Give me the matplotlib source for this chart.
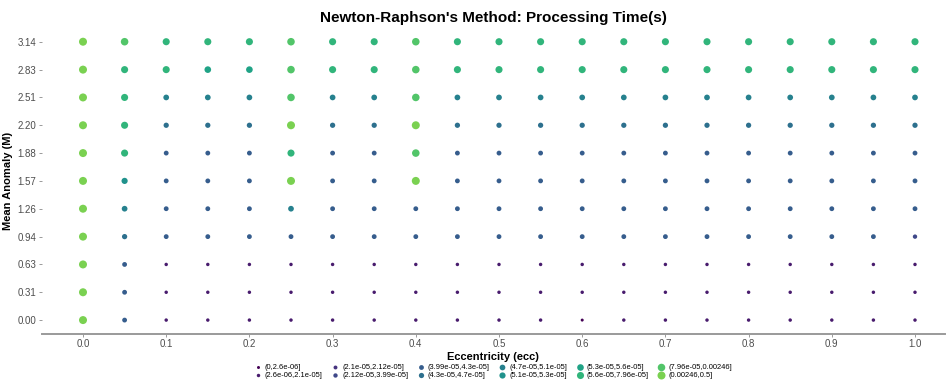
import numpy as np
import matplotlib
matplotlib.use("Agg")
import matplotlib.pyplot as plt
from matplotlib.lines import Line2D

plt.rcParams['font.family'] = ['Liberation Sans', 'DejaVu Sans']

ecc = [round(0.05 * i, 2) for i in range(21)]
mean_anomaly = [0.0, 0.314, 0.628, 0.942, 1.257, 1.571, 1.885, 2.199, 2.513, 2.827, 3.142]
y_tick_labels = ["0.00", "0.31", "0.63", "0.94", "1.26", "1.57", "1.88", "2.20", "2.51", "2.83", "3.14"]
x_tick_labels = ["0.0", "0.1", "0.2", "0.3", "0.4", "0.5", "0.6", "0.7", "0.8", "0.9", "1.0"]

bin_labels = ["(0,2.6e-06]", "(2.6e-06,2.1e-05]", "(2.1e-05,2.12e-05]", "(2.12e-05,3.99e-05]",
              "(3.99e-05,4.3e-05]", "(4.3e-05,4.7e-05]", "(4.7e-05,5.1e-05]", "(5.1e-05,5.3e-05]",
              "(5.3e-05,5.6e-05]", "(5.6e-05,7.96e-05]", "(7.96e-05,0.00246]", "(0.00246,0.5]"]

# time bin (1..12) of each point, one list per mean anomaly row (bottom to top), columns = ecc
bins_m000 = [12, 5, 2, 2, 2, 2, 2, 2, 2, 2, 2, 2, 1, 2, 2, 2, 2, 2, 2, 2, 2]
bins_m031 = [12, 5, 2, 2, 2, 2, 2, 2, 2, 2, 2, 2, 2, 2, 2, 2, 2, 2, 2, 2, 2]
bins_m063 = [12, 5, 2, 2, 2, 2, 2, 2, 2, 2, 2, 2, 2, 2, 2, 2, 2, 2, 2, 2, 2]
bins_m094 = [12, 6, 5, 5, 5, 5, 5, 5, 5, 5, 5, 5, 5, 5, 5, 5, 5, 5, 5, 5, 4]
bins_m126 = [12, 7, 5, 5, 5, 7, 5, 5, 5, 5, 5, 5, 5, 5, 5, 5, 5, 5, 5, 5, 5]
bins_m157 = [12, 8, 5, 5, 5, 12, 5, 5, 12, 5, 5, 5, 5, 5, 5, 5, 5, 5, 5, 5, 5]
bins_m188 = [12, 10, 5, 5, 5, 10, 5, 5, 11, 5, 5, 5, 5, 5, 5, 5, 5, 5, 5, 5, 5]
bins_m220 = [12, 10, 6, 6, 6, 12, 6, 6, 12, 6, 6, 6, 6, 6, 6, 6, 6, 6, 6, 6, 6]
bins_m251 = [12, 10, 7, 7, 7, 11, 7, 7, 11, 7, 7, 7, 7, 7, 7, 7, 7, 7, 7, 7, 7]
bins_m283 = [12, 10, 10, 9, 9, 11, 10, 10, 11, 10, 10, 10, 10, 10, 10, 10, 10, 10, 10, 10, 10]
bins_m314 = [12, 11, 10, 10, 10, 11, 10, 10, 11, 10, 10, 10, 10, 10, 10, 10, 10, 10, 10, 10, 10]

bin_rows = [bins_m000, bins_m031, bins_m063, bins_m094, bins_m126, bins_m157,
            bins_m188, bins_m220, bins_m251, bins_m283, bins_m314]

n_bins = len(bin_labels)
colors = plt.cm.viridis(np.linspace(0, 0.8, n_bins))
diam_px = np.linspace(3.0, 8.0, n_bins)
sizes = (diam_px * 0.72) ** 2

W, H = 948, 383
fig = plt.figure(figsize=(W / 100, H / 100), dpi=100)

# panel placement (pixels)
px_left, px_right = 41.6, 945.0
px_top, px_bottom = 27.8, 334.0
ax = fig.add_axes([px_left / W, 1 - px_bottom / H, (px_right - px_left) / W, (px_bottom - px_top) / H])

xs, ys, cs, ss = [], [], [], []
for mi, row in enumerate(bin_rows):
    for ei, b in enumerate(row):
        xs.append(ecc[ei]); ys.append(mean_anomaly[mi])
        cs.append(colors[b - 1]); ss.append(sizes[b - 1])
ax.scatter(xs, ys, c=cs, s=ss, linewidths=0, zorder=3)

unit = 832.0
ax.set_xlim(-(83 - px_left) / unit, 1 + (px_right - 915) / unit)
yr = 3.142
ax.set_ylim(-0.05 * yr, 1.05 * yr)

ax.set_xticks(np.arange(0, 1.01, 0.1))
ax.set_xticklabels(x_tick_labels)
ax.set_yticks(mean_anomaly)
ax.set_yticklabels(y_tick_labels)

for s in ['top', 'right', 'left']:
    ax.spines[s].set_visible(False)
ax.spines['bottom'].set_color('#9a9a9a')
ax.spines['bottom'].set_linewidth(1.4)
ax.tick_params(axis='both', colors='#8a8a8a', labelcolor='#4d4d4d', labelsize=7,
               length=2.2, width=0.6, pad=1.5)

ax.set_xlabel("Eccentricity (ecc)", fontsize=8, fontweight='bold', labelpad=2)
ax.set_ylabel("Mean Anomaly (M)", fontsize=8, fontweight='bold', labelpad=3)

fig.text(493 / W, 1 - 18 / H, "Newton-Raphson's Method: Processing Time(s)",
         ha='center', va='center', fontsize=11, fontweight='bold')

handles = [Line2D([0], [0], marker='o', linestyle='None', markersize=diam_px[i] * 0.72,
                  markerfacecolor=colors[i], markeredgewidth=0) for i in range(n_bins)]
fig.legend(handles, bin_labels, ncol=6, loc='center', bbox_to_anchor=(493 / W, 1 - 371.5 / H),
           frameon=False, fontsize=5.4, handlelength=1.0, handletextpad=0.4,
           columnspacing=1.2, labelspacing=0.1, borderpad=0)

fig.savefig("out.png", dpi=100)
